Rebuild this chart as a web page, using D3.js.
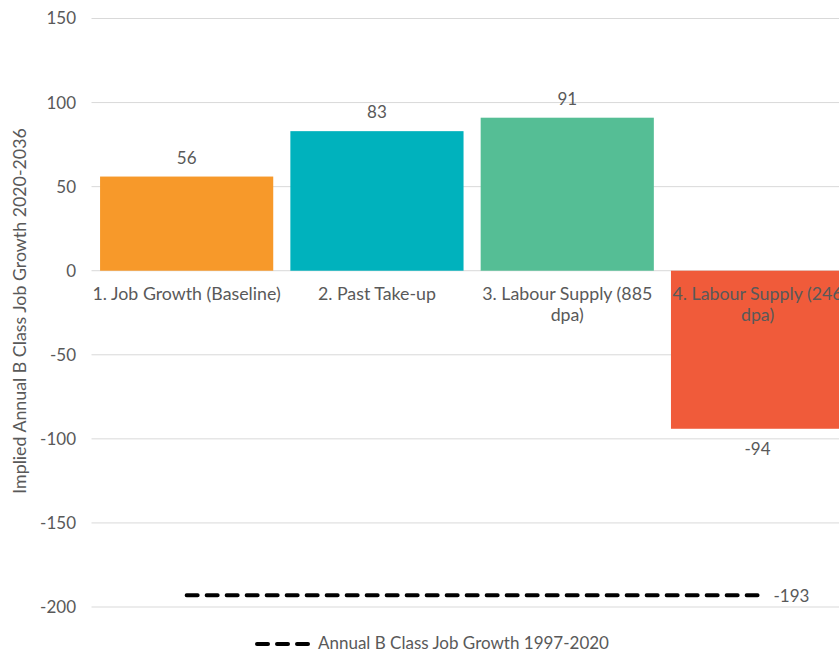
<!DOCTYPE html>
<html><head><meta charset="utf-8">
<script src="https://cdn.jsdelivr.net/npm/d3@7"></script>
<style>body{margin:0;background:#fff;overflow:hidden}</style>
</head><body>
<script>
const categories = ["1. Job Growth (Baseline)", "2. Past Take-up", "3. Labour Supply (885 dpa)", "4. Labour Supply (246 dpa)"];
const values = [56, 83, 91, -94];
const colors = ["#F7992A", "#00B2BD", "#55BE95", "#F05B3A"];
const lineValue = -193;
const lineName = "Annual B Class Job Growth 1997-2020";
const yTicks = [-200, -150, -100, -50, 0, 50, 100, 150];
const yTitle = "Implied Annual B Class Job Growth 2020-2036";

const W = 839, H = 652;
const font = "Lato, 'Open Sans', sans-serif";
const svg = d3.select("body").append("svg").attr("width", W).attr("height", H)
  .style("font-family", font);

const x = d3.scaleBand().domain(categories).range([91.5, 852.7]).paddingInner(0.09).paddingOuter(0.045);
const y = d3.scaleLinear().domain([-200, 150]).range([607, 18.5]);

// gridlines
svg.append("g").selectAll("line").data(yTicks).join("line")
  .attr("x1", 91.5).attr("x2", W).attr("y1", d => y(d)).attr("y2", d => y(d))
  .attr("stroke", "#d9d9d9").attr("stroke-width", 1);

// y axis labels
const ya = svg.append("g").attr("transform", "translate(76,0)")
  .call(d3.axisLeft(y).tickValues(yTicks).tickSize(0).tickPadding(0).tickFormat(d => String(d)));
ya.select(".domain").remove();
ya.selectAll("text").attr("font-family", font).attr("font-size", 17).attr("fill", "#595959");

// y title
svg.append("text").attr("transform", `translate(26,${311}) rotate(-90)`)
  .attr("text-anchor", "middle").attr("font-size", 17.8).attr("fill", "#595959").text(yTitle);

// bars
svg.append("g").selectAll("rect").data(values).join("rect")
  .attr("x", (d, i) => x(categories[i])).attr("width", x.bandwidth())
  .attr("y", d => y(Math.max(0, d))).attr("height", d => Math.abs(y(d) - y(0)))
  .attr("fill", (d, i) => colors[i]);

// value labels
svg.append("g").selectAll("text").data(values).join("text")
  .attr("x", (d, i) => x(categories[i]) + x.bandwidth() / 2)
  .attr("y", d => d >= 0 ? y(d) - 13 : y(d) + 26)
  .attr("text-anchor", "middle").attr("font-size", 17).attr("fill", "#595959").text(d => d);

// category labels (wrap)
function wrap(text, width) {
  text.each(function () {
    const t = d3.select(this), words = t.text().split(/\s+/);
    let line = [], lineNo = 0;
    const xx = t.attr("x"), yy = t.attr("y");
    let tspan = t.text(null).append("tspan").attr("x", xx).attr("y", yy);
    for (const w of words) {
      line.push(w); tspan.text(line.join(" "));
      if (tspan.node().getComputedTextLength() > width && line.length > 1) {
        line.pop(); tspan.text(line.join(" ")); line = [w]; lineNo++;
        tspan = t.append("tspan").attr("x", xx).attr("y", +yy + lineNo * 21).text(w);
      }
    }
  });
}
svg.append("g").selectAll("text").data(categories).join("text")
  .attr("x", d => x(d) + x.bandwidth() / 2).attr("y", y(0) + 29)
  .attr("text-anchor", "middle").attr("font-size", 17.8).attr("fill", "#595959")
  .text(d => d).call(wrap, 195);

// dashed line
const lineData = categories.map(c => ({c, v: lineValue}));
svg.append("path").datum(lineData)
  .attr("d", d3.line().x(d => x(d.c) + x.bandwidth() / 2).y(d => y(d.v)))
  .attr("fill", "none").attr("stroke", "#000").attr("stroke-width", 4)
  .attr("stroke-dasharray", "11,9").attr("stroke-linecap", "round");
svg.append("text").attr("x", x(categories[3]) + x.bandwidth() / 2 + 16).attr("y", y(lineValue) + 7)
  .attr("font-size", 17).attr("fill", "#595959").text(lineValue);

// legend
svg.append("line").attr("x1", 257).attr("x2", 310).attr("y1", 644).attr("y2", 644)
  .attr("stroke", "#000").attr("stroke-width", 4).attr("stroke-dasharray", "11,9").attr("stroke-linecap", "round");
svg.append("text").attr("x", 318).attr("y", 649).attr("font-size", 17).attr("fill", "#595959").text(lineName);
</script>
</body></html>
